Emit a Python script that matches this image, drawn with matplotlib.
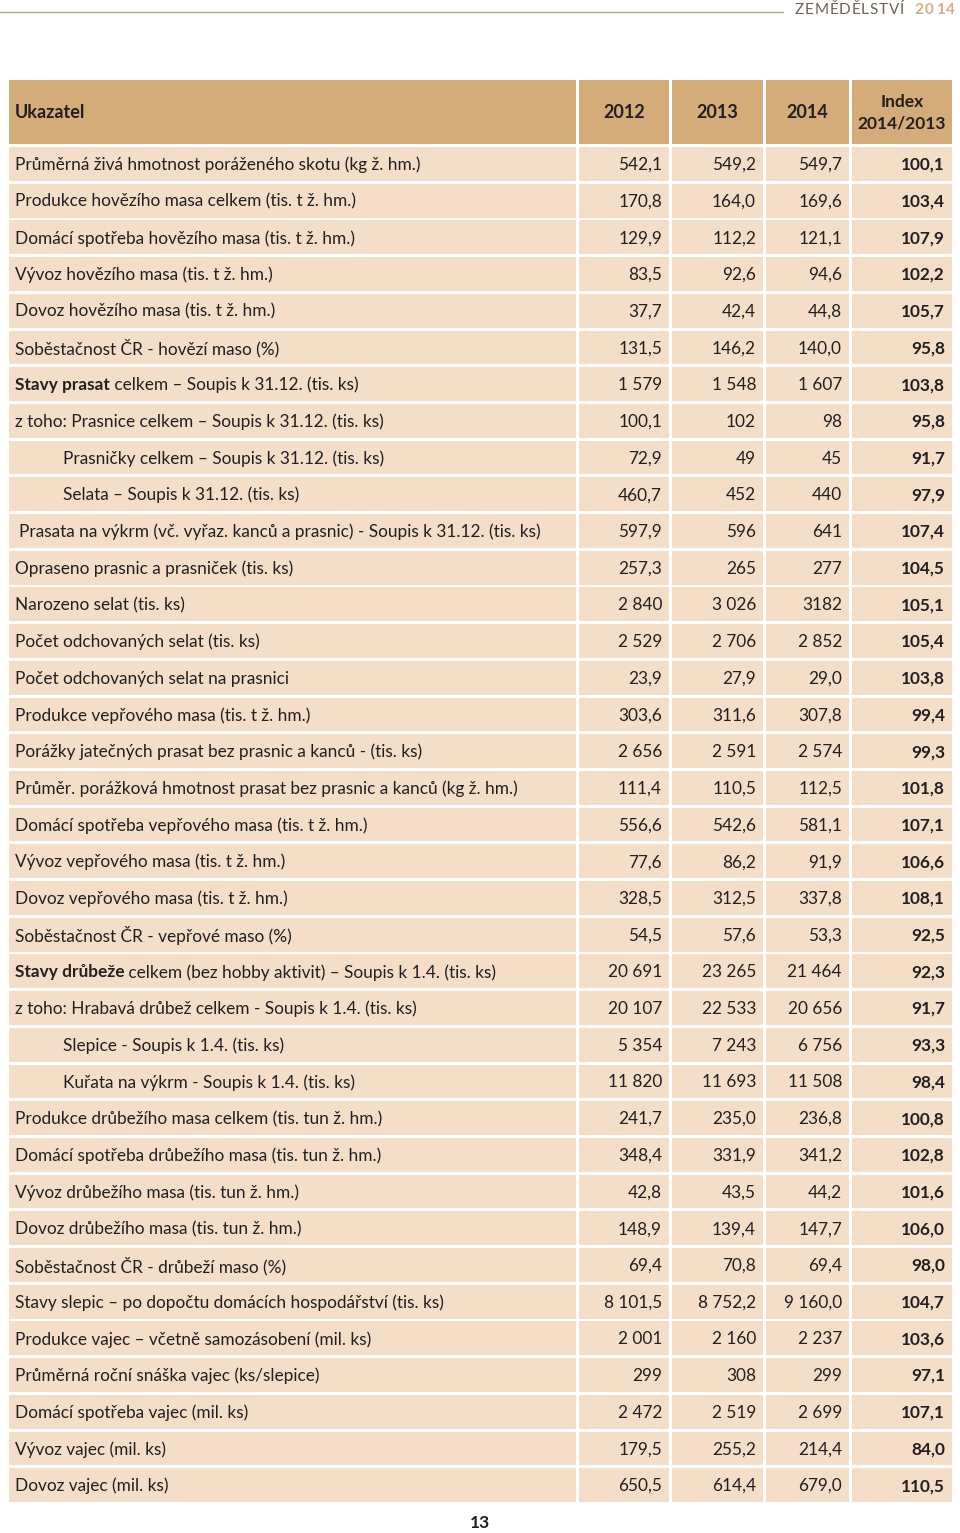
import matplotlib.pyplot as plt
from matplotlib.patches import Rectangle

plt.rcParams['font.family'] = ['Lato', 'DejaVu Sans']

# --- data -------------------------------------------------------------
headers = ["Ukazatel", "2012", "2013", "2014", "Index\n2014/2013"]

# (bold prefix, rest of label, indent level)
labels = [
    ("", "Průměrná živá hmotnost poráženého skotu (kg ž. hm.)", 0),
    ("", "Produkce hovězího masa celkem (tis. t ž. hm.)", 0),
    ("", "Domácí spotřeba hovězího masa (tis. t ž. hm.)", 0),
    ("", "Vývoz hovězího masa (tis. t ž. hm.)", 0),
    ("", "Dovoz hovězího masa (tis. t ž. hm.)", 0),
    ("", "Soběstačnost ČR - hovězí maso (%)", 0),
    ("Stavy prasat", " celkem – Soupis k 31.12. (tis. ks)", 0),
    ("", "z toho: Prasnice celkem – Soupis k 31.12. (tis. ks)", 0),
    ("", "Prasničky celkem – Soupis k 31.12. (tis. ks)", 2),
    ("", "Selata – Soupis k 31.12. (tis. ks)", 2),
    ("", "Prasata na výkrm (vč. vyřaz. kanců a prasnic) - Soupis k 31.12. (tis. ks)", 1),
    ("", "Opraseno prasnic a prasniček (tis. ks)", 0),
    ("", "Narozeno selat (tis. ks)", 0),
    ("", "Počet odchovaných selat (tis. ks)", 0),
    ("", "Počet odchovaných selat na prasnici", 0),
    ("", "Produkce vepřového masa (tis. t ž. hm.)", 0),
    ("", "Porážky jatečných prasat bez prasnic a kanců - (tis. ks)", 0),
    ("", "Průměr. porážková hmotnost prasat bez prasnic a kanců (kg ž. hm.)", 0),
    ("", "Domácí spotřeba vepřového masa (tis. t ž. hm.)", 0),
    ("", "Vývoz vepřového masa (tis. t ž. hm.)", 0),
    ("", "Dovoz vepřového masa (tis. t ž. hm.)", 0),
    ("", "Soběstačnost ČR - vepřové maso (%)", 0),
    ("Stavy drůbeže", " celkem (bez hobby aktivit) – Soupis k 1.4. (tis. ks)", 0),
    ("", "z toho: Hrabavá drůbež celkem - Soupis k 1.4. (tis. ks)", 0),
    ("", "Slepice - Soupis k 1.4. (tis. ks)", 2),
    ("", "Kuřata na výkrm - Soupis k 1.4. (tis. ks)", 2),
    ("", "Produkce drůbežího masa celkem (tis. tun ž. hm.)", 0),
    ("", "Domácí spotřeba drůbežího masa (tis. tun ž. hm.)", 0),
    ("", "Vývoz drůbežího masa (tis. tun ž. hm.)", 0),
    ("", "Dovoz drůbežího masa (tis. tun ž. hm.)", 0),
    ("", "Soběstačnost ČR - drůbeží maso (%)", 0),
    ("", "Stavy slepic – po dopočtu domácích hospodářství (tis. ks)", 0),
    ("", "Produkce vajec – včetně samozásobení (mil. ks)", 0),
    ("", "Průměrná roční snáška vajec (ks/slepice)", 0),
    ("", "Domácí spotřeba vajec (mil. ks)", 0),
    ("", "Vývoz vajec (mil. ks)", 0),
    ("", "Dovoz vajec (mil. ks)", 0),
]

v2012 = ["542,1", "170,8", "129,9", "83,5", "37,7", "131,5", "1 579", "100,1", "72,9",
         "460,7", "597,9", "257,3", "2 840", "2 529", "23,9", "303,6", "2 656", "111,4",
         "556,6", "77,6", "328,5", "54,5", "20 691", "20 107", "5 354", "11 820", "241,7",
         "348,4", "42,8", "148,9", "69,4", "8 101,5", "2 001", "299", "2 472", "179,5", "650,5"]
v2013 = ["549,2", "164,0", "112,2", "92,6", "42,4", "146,2", "1 548", "102", "49",
         "452", "596", "265", "3 026", "2 706", "27,9", "311,6", "2 591", "110,5",
         "542,6", "86,2", "312,5", "57,6", "23 265", "22 533", "7 243", "11 693", "235,0",
         "331,9", "43,5", "139,4", "70,8", "8 752,2", "2 160", "308", "2 519", "255,2", "614,4"]
v2014 = ["549,7", "169,6", "121,1", "94,6", "44,8", "140,0", "1 607", "98", "45",
         "440", "641", "277", "3182", "2 852", "29,0", "307,8", "2 574", "112,5",
         "581,1", "91,9", "337,8", "53,3", "21 464", "20 656", "6 756", "11 508", "236,8",
         "341,2", "44,2", "147,7", "69,4", "9 160,0", "2 237", "299", "2 699", "214,4", "679,0"]
index = ["100,1", "103,4", "107,9", "102,2", "105,7", "95,8", "103,8", "95,8", "91,7",
         "97,9", "107,4", "104,5", "105,1", "105,4", "103,8", "99,4", "99,3", "101,8",
         "107,1", "106,6", "108,1", "92,5", "92,3", "91,7", "93,3", "98,4", "100,8",
         "102,8", "101,6", "106,0", "98,0", "104,7", "103,6", "97,1", "107,1", "84,0", "110,5"]

# --- layout / style ---------------------------------------------------
W, H = 960, 1533
head_col = "#D3AC7A"
row_col = "#F4DEC8"
txt = "#231F20"
fs = 12.4

col_edges = [(9, 576), (579, 669), (672, 763), (766, 849), (852, 952)]
head_top, head_bot = 80, 144
row_top0, row_step, row_h = 147, 36.7, 33.8
indent_x = [15, 19, 63]

fig = plt.figure(figsize=(W / 100, H / 100), dpi=100)
ax = fig.add_axes([0, 0, 1, 1])
ax.set_xlim(0, W)
ax.set_ylim(H, 0)
ax.axis("off")
fig.canvas.draw()
renderer = fig.canvas.get_renderer()
inv = ax.transData.inverted()


def spaced_right(x_end, y, s, gap, **kw):
    # letter-spaced text, laid out char by char, then shifted so it ends at x_end
    x = 0
    items = []
    for ch in s:
        t = ax.text(x, y, ch, va="center", ha="left", **kw)
        bb = t.get_window_extent(renderer)
        items.append((t, x))
        x = inv.transform((bb.x1, 0))[0] + gap
    shift = x_end - (x - gap)
    for t, x0 in items:
        t.set_x(x0 + shift)


# page header
ax.plot([0, 783], [12, 12], color="#C9A67C", lw=1)
spaced_right(904, 10, "ZEMĚDĚLSTVÍ", 0.8, fontsize=11, color="#6E6253")
spaced_right(955, 10, "2014", 1.8, fontsize=11, color="#D2AE82", fontweight="bold")

# header cells
for (x0, x1), h in zip(col_edges, headers):
    ax.add_patch(Rectangle((x0, head_top), x1 - x0, head_bot - head_top,
                           color=head_col, lw=0))
yc = (head_top + head_bot) / 2
ax.text(15, yc + 1, headers[0], fontsize=13, fontweight="bold", color=txt,
        va="center", ha="left")
for (x0, x1), h in zip(col_edges[1:], headers[1:]):
    ax.text((x0 + x1) / 2, yc + 1, h, fontsize=13 if "\n" not in h else 12.5,
            fontweight="bold", color=txt, va="center", ha="center", linespacing=1.4)

# body
for i, (bold, rest, lvl) in enumerate(labels):
    top = row_top0 + i * row_step
    for x0, x1 in col_edges:
        ax.add_patch(Rectangle((x0, top), x1 - x0, row_h, color=row_col, lw=0))
    y = top + row_h / 2 + 1
    x = indent_x[lvl]
    if bold:
        t = ax.text(x, y, bold, fontsize=fs, fontweight="bold", color=txt,
                    va="center", ha="left")
        bb = t.get_window_extent(renderer)
        x = inv.transform((bb.x1, 0))[0]
    ax.text(x, y, rest, fontsize=fs, color=txt, va="center", ha="left")
    for (x0, x1), vals in zip(col_edges[1:4], (v2012, v2013, v2014)):
        ax.text(x1 - 7, y, vals[i], fontsize=fs, color=txt, va="center", ha="right")
    ax.text(col_edges[4][1] - 7, y, index[i], fontsize=fs, fontweight="bold",
            color=txt, va="center", ha="right")

# page number
ax.text(480, 1523, "13", fontsize=12.5, fontweight="bold", color=txt,
        va="center", ha="center")

fig.savefig("out.png", dpi=100, facecolor="white")
